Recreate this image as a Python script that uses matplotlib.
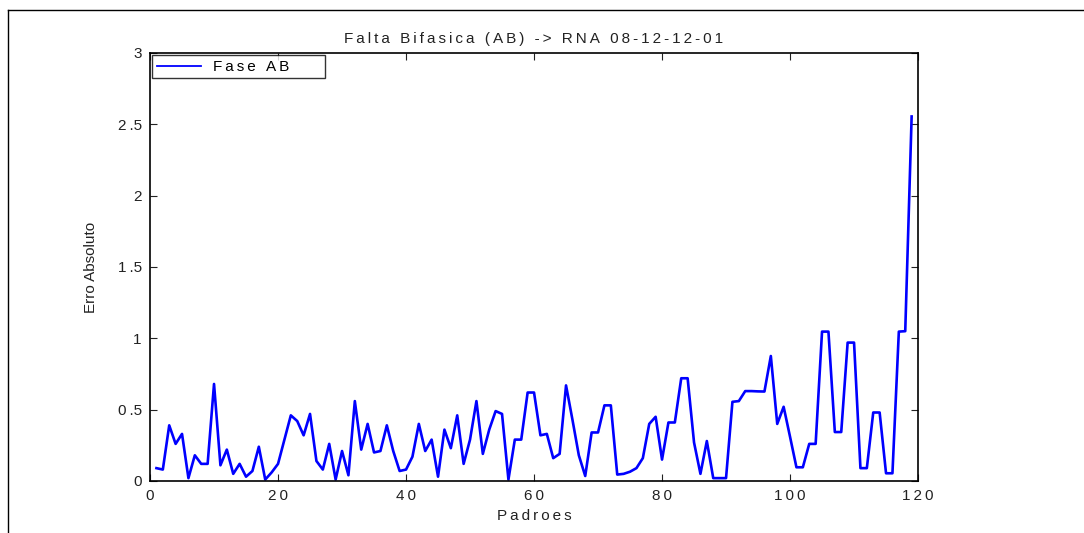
import numpy as np
import matplotlib
matplotlib.use("Agg")
import matplotlib.pyplot as plt
from matplotlib.lines import Line2D

plt.rcParams['font.family'] = ['Liberation Sans', 'DejaVu Sans']

# absolute error per pattern (fase AB)
padroes = np.arange(1, 120)
erro_ab = [
    0.09, 0.08, 0.39, 0.26, 0.33, 0.02, 0.18, 0.12, 0.12, 0.68,
    0.11, 0.22, 0.05, 0.12, 0.03, 0.07, 0.24, 0.01, 0.06, 0.12,
    0.29, 0.46, 0.42, 0.32, 0.47, 0.14, 0.08, 0.26, 0.01, 0.21,
    0.04, 0.56, 0.22, 0.40, 0.20, 0.21, 0.39, 0.21, 0.07, 0.08,
    0.17, 0.40, 0.21, 0.29, 0.03, 0.36, 0.23, 0.46, 0.12, 0.29,
    0.56, 0.19, 0.36, 0.49, 0.47, 0.01, 0.29, 0.29, 0.62, 0.62,
    0.32, 0.33, 0.16, 0.19, 0.67, 0.43, 0.18, 0.035, 0.34, 0.34,
    0.53, 0.53, 0.045, 0.05, 0.065, 0.09, 0.16, 0.40, 0.45, 0.15,
    0.41, 0.41, 0.72, 0.72, 0.27, 0.05, 0.28, 0.02, 0.02, 0.02,
    0.555, 0.56, 0.63, 0.63, 0.628, 0.627, 0.876, 0.40, 0.52, 0.31,
    0.096, 0.096, 0.26, 0.26, 1.047, 1.047, 0.343, 0.343, 0.97, 0.97,
    0.09, 0.09, 0.48, 0.48, 0.054, 0.054, 1.047, 1.05, 2.555,
]

xticks = [0, 20, 40, 60, 80, 100, 120]
yticks = [0, 0.5, 1, 1.5, 2, 2.5, 3]


def spaced(s):
    # old plotting tools drew text with wide letter spacing
    return "\u2009".join(s)


fig = plt.figure(figsize=(10.84, 5.33), dpi=100)
ax = fig.add_axes([0.1384, 0.0976, 0.7085, 0.803])

ax.plot(padroes, erro_ab, color='#0000ff', linewidth=1.9,
        label=spaced("Fase AB") + "\u2003\u2003")
ax.set_xlim(0, 120)
ax.set_ylim(0, 3)

ax.set_xticks(xticks)
ax.set_xticklabels([spaced(str(t)) for t in xticks])
ax.set_yticks(yticks)
ax.set_yticklabels([spaced(f"{t:g}").replace("\u2009.\u2009", "\u2009.") for t in yticks])
ax.tick_params(direction='in', length=5, width=0.8, top=True, right=True,
               labelsize=11, colors='#222222', labelcolor='#222222', pad=6)
for sp in ax.spines.values():
    sp.set_linewidth(1.2)

ax.set_title(spaced("Falta Bifasica (AB) -> RNA 08-12-12-01"), fontsize=11, pad=7, color='#222222')
ax.set_xlabel(spaced("Padroes"), fontsize=11, labelpad=4, color='#222222')
ax.set_ylabel("Erro Absoluto", fontsize=11, labelpad=14, color='#222222')

leg = ax.legend(loc='upper left', fontsize=11, frameon=True, fancybox=False,
                borderaxespad=0.15, handlelength=2.9, borderpad=0.3,
                handletextpad=0.8)
leg.get_frame().set_edgecolor('black')
leg.get_frame().set_linewidth(1.0)
leg.get_lines()[0].set_linewidth(1.3)
leg.set_zorder(5)

# window frame around the figure
fig.add_artist(Line2D([8 / 1084, 1], [1 - 10 / 533, 1 - 10 / 533], color='black', linewidth=1.0))
fig.add_artist(Line2D([8 / 1084, 8 / 1084], [0, 1 - 10 / 533], color='black', linewidth=1.0))

fig.savefig("out.png", dpi=100)
